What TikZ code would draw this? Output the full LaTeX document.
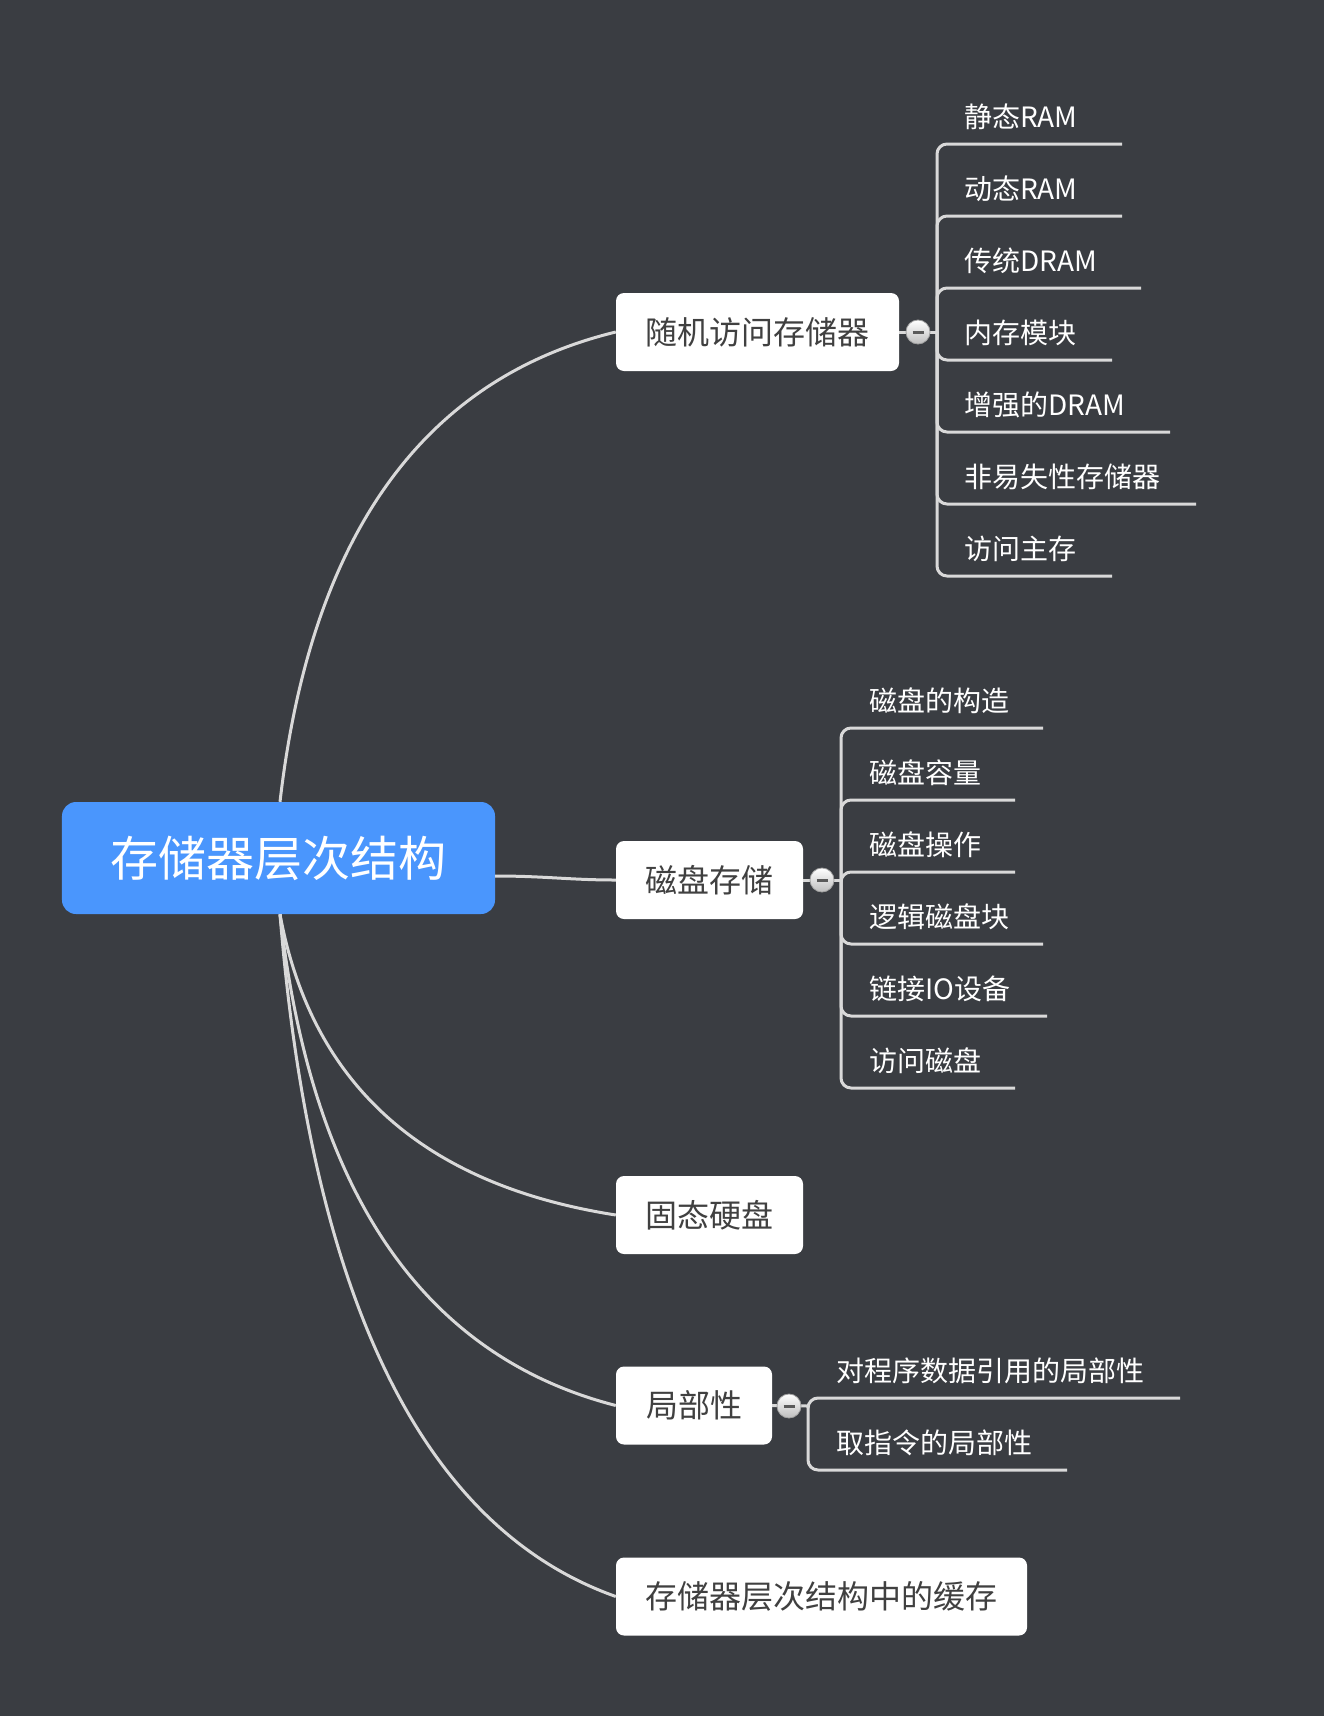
\documentclass[tikz,border=0pt]{standalone}
\usepackage{fontspec}
\setmainfont{Noto Sans CJK SC}
\definecolor{bgc}{HTML}{3A3D42}
\definecolor{rootc}{HTML}{4A96FD}
\definecolor{lnc}{HTML}{D9D9D9}
\definecolor{txtc}{HTML}{404040}
\definecolor{foldb}{HTML}{A0A0A0}
\definecolor{foldc}{HTML}{BDBDBD}
\definecolor{minusc}{HTML}{5A5A5A}
\begin{document}
\begin{tikzpicture}[x=1bp,y=-1bp,
  line/.style={draw=lnc, line width=3bp},
  brc/.style={line, rounded corners=10bp},
  rootbox/.style={fill=rootc, rounded corners=14bp, minimum width=433bp, minimum height=112bp, text=white, font=\fontsize{48bp}{58bp}\selectfont, inner sep=0pt},
  topic/.style={fill=white, rounded corners=8bp, minimum height=78bp, text=txtc, font=\fontsize{32bp}{38bp}\selectfont, inner sep=0pt},
  leaf/.style={text=white, font=\fontsize{28bp}{34bp}\selectfont, inner sep=0pt, anchor=base west},
  fold/.style={circle, minimum size=24bp, inner sep=0pt, draw=foldb, line width=0.8bp, top color=white, bottom color=foldc,
    path picture={\draw[minusc, line width=3bp] ([xshift=-5.5bp]path picture bounding box.center) -- ([xshift=5.5bp]path picture bounding box.center);}},
]
\fill[bgc] (0,0) rectangle (1324,1716);

% nodes
\node[rootbox] (root) at (278.5,858) {存储器层次结构};
\node[topic, minimum width=283bp] (A) at (757.5,332) {随机访问存储器};
\node[topic, minimum width=187bp] (B) at (709.5,880) {磁盘存储};
\node[topic, minimum width=187bp] (C) at (709.5,1215) {固态硬盘};
\node[topic, minimum width=156bp] (D) at (694,1405.5) {局部性};
\node[topic, minimum width=411bp] (E) at (821.5,1596.5) {存储器层次结构中的缓存};

% root connectors
\draw[line] ([xshift=1.5bp]root.north) .. controls (310.7,535.3) and (423.3,378.7) .. (A.west);
\draw[line] ([yshift=-18bp]root.east) .. controls (545,876) and (570,880) .. (B.west);
\draw[line] ([xshift=1.5bp]root.south) .. controls (311.3,1084.3) and (423.3,1185) .. (C.west);
\draw[line] ([xshift=1.5bp]root.south) .. controls (311.3,1192.7) and (423.3,1356) .. (D.west);
\draw[line] ([xshift=1.5bp]root.south) .. controls (311.3,1300.3) and (423.3,1528.2) .. (E.west);

% fold markers
\coordinate (ta) at (937,332);
\coordinate (tb) at (841,880);
\coordinate (td) at (808,1406);
\draw[line] (A.east) -- (ta);
\draw[line] (B.east) -- (tb);
\draw[line] (D.east) -- (td);
\node[fold] (fa) at (918,332) {};
\node[fold] (fb) at (822,880) {};
\node[fold] (fd) at (789,1406) {};

% children of A
\foreach \n/\t/\y/\e in {1/静态RAM/144/1122, 2/动态RAM/216/1122, 3/传统DRAM/288/1141, 4/内存模块/360/1112, 5/增强的DRAM/432/1170, 6/非易失性存储器/504/1196, 7/访问主存/576/1112}{
  \coordinate (a\n e) at (\e,\y);
  \node[leaf] (a\n) at (964,\y-16.5) {\t};
  \draw[brc] (ta) |- (a\n e);
}
% children of B
\foreach \n/\t/\y/\e in {1/磁盘的构造/728/1043, 2/磁盘容量/800/1015, 3/磁盘操作/872/1015, 4/逻辑磁盘块/944/1043, 5/链接IO设备/1016/1047, 6/访问磁盘/1088/1015}{
  \coordinate (b\n e) at (\e,\y);
  \node[leaf] (b\n) at (869,\y-16.5) {\t};
  \draw[brc] (tb) |- (b\n e);
}
% children of D
\foreach \n/\t/\y/\e in {1/对程序数据引用的局部性/1398/1180, 2/取指令的局部性/1470/1067}{
  \coordinate (d\n e) at (\e,\y);
  \node[leaf] (d\n) at (836,\y-16.5) {\t};
  \draw[brc] (td) |- (d\n e);
}
\end{tikzpicture}
\end{document}
